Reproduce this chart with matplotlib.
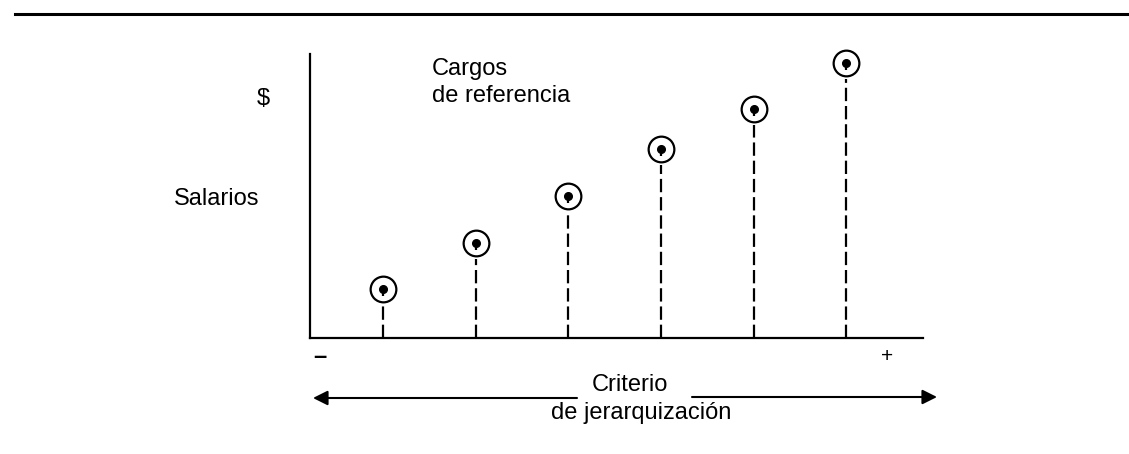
import numpy as np
import matplotlib.pyplot as plt
from matplotlib.transforms import offset_copy

plt.rcParams['font.family'] = ['Liberation Sans', 'DejaVu Sans']

# benchmark jobs, ordered by the ranking criterion (arbitrary salary units)
positions = [1, 2, 3, 4, 5, 6]
salaries = [49, 95, 142, 189, 229, 275]

W, H = 1129, 454
fig = plt.figure(figsize=(W / 100, H / 100), dpi=100)

# axes box in pixels: x 310..923, y 54..338 (from top)
ax = fig.add_axes([310 / W, (H - 338) / H, 613 / W, 284 / H])
ax.set_xlim(0.21, 6.83)
ax.set_ylim(0, 284)
for s in ['top', 'right']:
    ax.spines[s].set_visible(False)
for s in ['left', 'bottom']:
    ax.spines[s].set_linewidth(1.6)
ax.set_xticks([])
ax.set_yticks([])

# dashed drop lines from each point down to the axis
gap = 16  # pixels (= data units here) below the point centre where the dash stops
for x, y in zip(positions, salaries):
    ax.plot([x, x], [0, y - gap], color='k', lw=1.6, linestyle=(0, (6, 2.2)),
            solid_capstyle='butt', dash_capstyle='butt')

# ringed points with a small pin stem
ax.plot(positions, salaries, 'o', ms=18.5, mfc='white', mec='k', mew=1.6, clip_on=False)
stem = offset_copy(ax.transData, fig=fig, x=0, y=-3, units='dots')
ax.plot(positions, salaries, '|', ms=6, mew=1.6, color='k', transform=stem, clip_on=False)
ax.plot(positions, salaries, 'o', ms=5.5, color='k', clip_on=False)

fs = 17
fig.text(432 / W, 1 - 69 / H, 'Cargos', fontsize=fs, va='center', ha='left')
fig.text(432 / W, 1 - 96 / H, 'de referencia', fontsize=fs, va='center', ha='left')
fig.text(263 / W, 1 - 99 / H, '$', fontsize=fs, va='center', ha='center')
fig.text(217 / W, 1 - 199 / H, 'Salarios', fontsize=fs, va='center', ha='center')
fig.text(320 / W, 1 - 357 / H, '–', fontsize=fs, va='center', ha='center', fontweight='bold')
fig.text(887 / W, 1 - 357 / H, '+', fontsize=fs - 2, va='center', ha='center')
fig.text(630 / W, 1 - 385 / H, 'Criterio', fontsize=fs, va='center', ha='center')
fig.text(641 / W, 1 - 413 / H, 'de jerarquización', fontsize=fs, va='center', ha='center')

# double-headed criterion arrow, broken by the label
arrow = dict(arrowstyle='-|>', lw=1.5, color='k', mutation_scale=22, shrinkA=0, shrinkB=0)
fig.add_artist(plt.Annotation('', xy=(313, H - 398), xytext=(577, H - 398),
                              xycoords='figure pixels', arrowprops=arrow))
fig.add_artist(plt.Annotation('', xy=(937, H - 397), xytext=(692, H - 397),
                              xycoords='figure pixels', arrowprops=arrow))

# rule across the top of the page
fig.add_artist(plt.Line2D([15 / W, 1], [1 - 14 / H, 1 - 14 / H], color='k', lw=2.2))

fig.savefig('out.png', dpi=100)
